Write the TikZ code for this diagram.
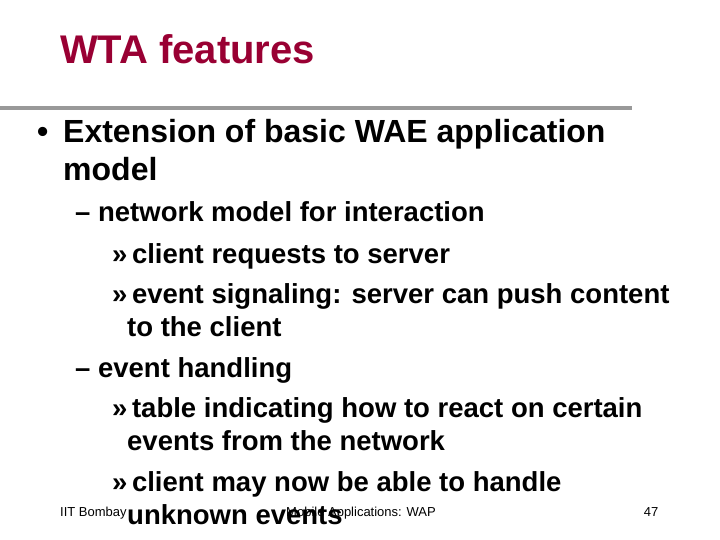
\documentclass[tikz,border=0pt]{standalone}
\usepackage{fontspec}
\setmainfont{Liberation Sans}
\definecolor{titlered}{HTML}{990033}
\definecolor{rulegray}{HTML}{999999}
\begin{document}
\begin{tikzpicture}[x=1pt,y=-1pt,
  t/.style={anchor=base west,inner sep=0pt},
  lone/.style={t,font=\fontsize{32}{34}\selectfont\bfseries},
  ltwo/.style={t,font=\fontsize{27.5}{29}\selectfont\bfseries},
  foot/.style={inner sep=0pt,anchor=base,font=\fontsize{13}{14}\selectfont}]
\useasboundingbox[fill=white] (0,0) rectangle (720,540);
\node[t,text=titlered,font=\fontsize{40}{42}\selectfont\bfseries] (title) at (60,64) {WTA features};
\coordinate (r1) at (0,108); \coordinate (r2) at (632,108);
\draw[rulegray,line width=4pt] (r1) -- (r2);
\node[lone] (b0) at (37,143) {•};
\node[lone] (l1) at (63,143) {Extension of basic WAE application};
\node[lone] (l2) at (63,181) {model};
\node[ltwo] (l3) at (75,222) {– network model for interaction};
\node[ltwo] (l4) at (112,263) {»\,client requests to server};
\node[ltwo] (l5) at (112,303) {»\,event signaling: server can push content};
\node[ltwo] (l6) at (127,336) {to the client};
\node[ltwo] (l7) at (75,377) {– event handling};
\node[ltwo] (l8) at (112,417) {»\,table indicating how to react on certain};
\node[ltwo] (l9) at (127,450) {events from the network};
\node[ltwo] (l10) at (112,491) {»\,client may now be able to handle};
\node[ltwo] (l11) at (127,524) {unknown events};
\node[foot,anchor=base west] (f1) at (60,516) {IIT Bombay};
\node[foot] (f2) at (361,516) {Mobile Applications: WAP};
\node[foot] (f3) at (651,516) {47};
\end{tikzpicture}
\end{document}
